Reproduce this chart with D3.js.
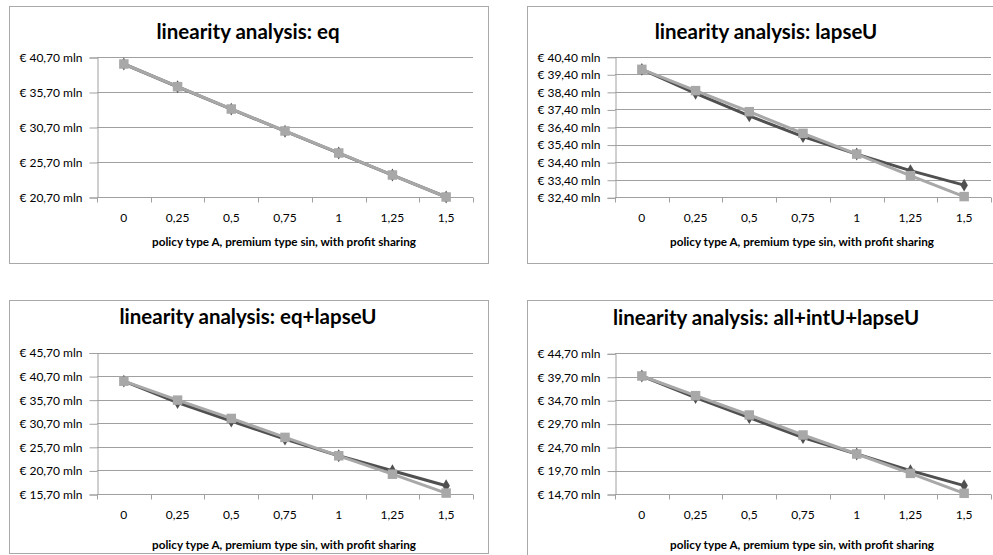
<!DOCTYPE html>
<html>
<head>
<meta charset="utf-8">
<script src="https://cdn.jsdelivr.net/npm/d3@7"></script>
<style>
html,body{margin:0;padding:0;background:#fff;overflow:hidden;}
svg{display:block;}
</style>
</head>
<body>
<svg id="c" width="993" height="555"></svg>
<script>
// ---- data ----
const categories = ["0", "0,25", "0,5", "0,75", "1", "1,25", "1,5"];
const xAxisTitle = "policy type A, premium type sin, with profit sharing";
const titles = ["linearity analysis: eq", "linearity analysis: lapseU",
                "linearity analysis: eq+lapseU", "linearity analysis: all+intU+lapseU"];

const eqTicks = [20.7, 25.7, 30.7, 35.7, 40.7];
const eqDark  = [39.70, 36.45, 33.25, 30.10, 26.98, 23.84, 20.70];
const eqLight = [39.70, 36.46, 33.27, 30.13, 26.99, 23.84, 20.70];

const lapseTicks = [32.4, 33.4, 34.4, 35.4, 36.4, 37.4, 38.4, 39.4, 40.4];
const lapseDark  = [39.68, 38.32, 37.03, 35.85, 34.86, 33.92, 33.09];
const lapseLight = [39.68, 38.47, 37.27, 36.04, 34.86, 33.63, 32.44];

const eqLapseTicks = [15.7, 20.7, 25.7, 30.7, 35.7, 40.7, 45.7];
const eqLapseDark  = [39.62, 35.10, 31.15, 27.33, 23.80, 20.63, 17.45];
const eqLapseLight = [39.62, 35.60, 31.72, 27.70, 23.80, 19.90, 15.90];

const allTicks = [14.7, 19.7, 24.7, 29.7, 34.7, 39.7, 44.7];
const allDark  = [39.86, 35.25, 30.98, 26.72, 23.23, 19.68, 16.49];
const allLight = [39.86, 35.67, 31.55, 27.28, 23.23, 19.10, 14.85];

// ---- layout ----
const charts = [
  {title: titles[0], ticks: eqTicks, dark: eqDark, light: eqLight,
   box: [9, 6, 479, 257], plot: [97, 57, 376, 140], titleY: 32, labY: 218, axTitleY: 242},
  {title: titles[1], ticks: lapseTicks, dark: lapseDark, light: lapseLight,
   box: [527, 6, 479, 257], plot: [615, 56.7, 376, 140.6], titleY: 32, labY: 218, axTitleY: 242},
  {title: titles[2], ticks: eqLapseTicks, dark: eqLapseDark, light: eqLapseLight,
   box: [9, 300, 479, 253], plot: [97, 352.5, 376, 141.5], titleY: 317, labY: 515, axTitleY: 545},
  {title: titles[3], ticks: allTicks, dark: allDark, light: allLight,
   box: [527, 300, 479, 260], plot: [615, 353.3, 376, 140.7], titleY: 318, labY: 515, axTitleY: 544.5}
];

const fmt = d3.formatLocale({decimal: ",", thousands: ".", grouping: [3], currency: ["€", ""]}).format(".2f");
const FONT = "Lato, 'Open Sans', sans-serif";
const svg = d3.select("#c");

charts.forEach(ch => {
  const g = svg.append("g");
  const [bx, by, bw, bh] = ch.box;
  g.append("rect").attr("x", bx + 0.5).attr("y", by + 0.5).attr("width", bw).attr("height", bh)
    .attr("fill", "#fff").attr("stroke", "#a9a9a9").attr("stroke-width", 1);

  const [px, py, pw, ph] = ch.plot;
  const x = d3.scaleBand().domain(categories).range([px, px + pw]);
  const y = d3.scaleLinear().domain([d3.min(ch.ticks), d3.max(ch.ticks)]).range([py + ph, py]);

  // gridlines
  g.append("g").selectAll("line").data(ch.ticks).join("line")
    .attr("x1", px).attr("x2", px + pw)
    .attr("y1", d => Math.round(y(d)) + 0.5).attr("y2", d => Math.round(y(d)) + 0.5)
    .attr("stroke", "#a0a0a0").attr("stroke-width", 1);

  // y axis
  const yAxis = d3.axisLeft(y).tickValues(ch.ticks).tickSize(8).tickPadding(7)
    .tickFormat(d => "€ " + fmt(d) + " mln");
  const ya = g.append("g").attr("transform", `translate(${Math.round(px) + 0.5},0.5)`).call(yAxis);
  ya.select(".domain").attr("stroke", "#a0a0a0");
  ya.selectAll(".tick line").attr("stroke", "#a0a0a0");
  ya.selectAll(".tick text").attr("font-family", FONT).attr("font-size", 12).attr("fill", "#000");

  // x axis
  const xa = g.append("g").attr("transform", `translate(0,${Math.round(py + ph) + 0.5})`);
  xa.append("line").attr("x1", px).attr("x2", px + pw).attr("stroke", "#a0a0a0");
  const bounds = d3.range(categories.length + 1).map(i => px + i * x.step());
  xa.selectAll("line.tk").data(bounds).join("line").attr("class", "tk")
    .attr("x1", d => Math.round(d) + 0.5).attr("x2", d => Math.round(d) + 0.5)
    .attr("y1", 0).attr("y2", 5).attr("stroke", "#a0a0a0");
  g.append("g").selectAll("text").data(categories).join("text")
    .attr("x", d => x(d) + x.bandwidth() / 2).attr("y", ch.labY).attr("dy", "0.35em")
    .attr("text-anchor", "middle").attr("font-family", FONT).attr("font-size", 12)
    .text(d => d);

  g.append("text").attr("x", px + pw / 2 - 1).attr("y", ch.axTitleY).attr("dy", "0.35em")
    .attr("text-anchor", "middle").attr("font-family", FONT).attr("font-size", 11.7)
    .attr("font-weight", "bold").text(xAxisTitle);

  g.append("text").attr("x", px + pw / 2 - 37).attr("y", ch.titleY).attr("dy", "0.35em")
    .attr("text-anchor", "middle").attr("font-family", FONT).attr("font-size", 20.5)
    .attr("font-weight", "bold").text(ch.title);

  // series
  const line = d3.line().x((d, i) => x(categories[i]) + x.bandwidth() / 2).y(d => y(d));
  const series = [
    {vals: ch.dark, color: "#505050", sym: d3.symbolDiamond, size: 48},
    {vals: ch.light, color: "#a8a8a8", sym: d3.symbolSquare, size: 90}
  ];
  series.forEach(s => {
    g.append("path").datum(s.vals).attr("d", line).attr("fill", "none")
      .attr("stroke", s.color).attr("stroke-width", 3).attr("stroke-linejoin", "round");
    g.append("g").selectAll("path").data(s.vals).join("path")
      .attr("transform", (d, i) => `translate(${x(categories[i]) + x.bandwidth() / 2},${y(d)})`)
      .attr("d", d3.symbol().type(s.sym).size(s.size)).attr("fill", s.color);
  });
});
</script>
</body>
</html>
